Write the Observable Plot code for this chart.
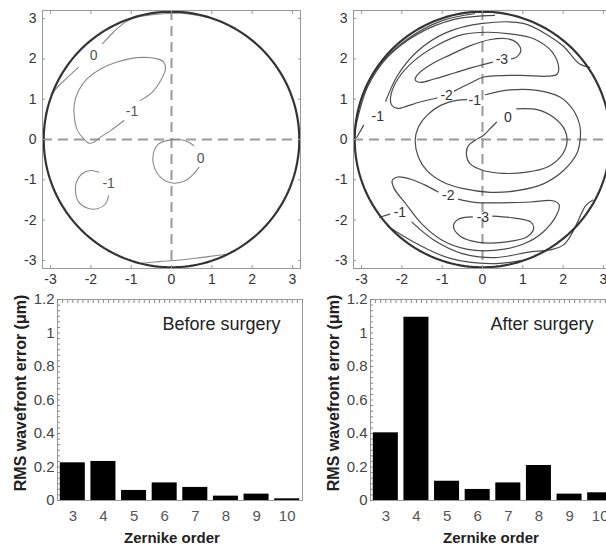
<!DOCTYPE html>
<html><head><meta charset="utf-8">
<script src="https://cdn.jsdelivr.net/npm/d3@7"></script>
<script src="https://cdn.jsdelivr.net/npm/@observablehq/plot@0.6"></script>
<style>
html,body{margin:0;padding:0;background:#fff;overflow:hidden;}
#wrap{position:relative;width:606px;height:550px;overflow:hidden;background:#fff;}
#wrap > svg{position:absolute;}
</style></head><body><div id="wrap"></div>
<script>
// ---------- data ----------
const orders = [3, 4, 5, 6, 7, 8, 9, 10];
const rmsBefore = [0.225, 0.233, 0.06, 0.105, 0.078, 0.026, 0.038, 0.01];
const rmsAfter = [0.404, 1.094, 0.115, 0.066, 0.105, 0.209, 0.038, 0.046];
const rmsTicks = [0, 0.2, 0.4, 0.6, 0.8, 1, 1.2];
const mapTicks = [-3, -2, -1, 0, 1, 2, 3];
const pupilRadius = 3.17;

// Before surgery contour traces [x, y]
const b0UpperA = [[-3.13,0.60],[-2.93,1.17],[-2.58,1.54],[-2.31,1.79]];
const b0UpperB = [[-1.71,2.38],[-1.44,2.66],[-1.19,2.88],[-0.94,3.01],[-0.52,3.09],[0.22,3.13],[0.9,3.03]];
const b0Bottom = [[-0.75,-3.07],[-0.3,-3.03],[0.2,-2.99],[0.72,-2.93],[1.27,-2.86],[1.35,-2.86]];
const bM1Upper = [[-1.18,0.47],[-1.51,0.22],[-1.76,0.06],[-1.93,-0.07],[-2.05,-0.09],[-2.18,0.02],[-2.33,0.22],[-2.41,0.55],[-2.41,0.89],[-2.30,1.22],[-2.09,1.51],[-1.76,1.75],[-1.35,1.92],[-0.85,2.03],[-0.35,2.00],[-0.19,1.92],[-0.15,1.75],[-0.27,1.46],[-0.48,1.17],[-0.77,0.97]];
const bM1Lower = [[-1.56,-1.39],[-1.64,-1.60],[-1.84,-1.72],[-2.09,-1.70],[-2.30,-1.56],[-2.38,-1.31],[-2.36,-1.06],[-2.22,-0.85],[-2.01,-0.77],[-1.80,-0.81]];
const b0Center = [[0.68,-0.69],[0.55,-0.85],[0.35,-1.02],[0.02,-1.08],[-0.27,-0.94],[-0.44,-0.65],[-0.45,-0.35],[-0.32,-0.11],[-0.02,-0.01],[0.31,-0.02],[0.55,-0.15]];
const beforeLabels = [["0",-1.93,2.08],["-1",-0.98,0.70],["0",0.72,-0.48],["-1",-1.56,-1.10]];

// After surgery contour traces [x, y]
const a0Center = [[0.85,0.76],[1.35,0.74],[1.76,0.55],[2.05,0.22],[2.09,-0.11],[1.93,-0.44],[1.60,-0.69],[1.10,-0.81],[0.52,-0.84],[0.02,-0.77],[-0.31,-0.60],[-0.40,-0.35],[-0.35,-0.15],[-0.18,-0.02],[0.02,0.10],[0.23,0.31],[0.35,0.43]];
const aM1Oval = [[0.07,1.11],[0.69,1.23],[1.35,1.22],[1.93,1.05],[2.26,0.72],[2.42,0.31],[2.42,-0.02],[2.34,-0.35],[2.01,-0.77],[1.51,-1.10],[0.85,-1.27],[0.19,-1.31],[-0.47,-1.22],[-0.97,-1.06],[-1.38,-0.77],[-1.59,-0.44],[-1.67,-0.02],[-1.59,0.31],[-1.38,0.60],[-1.05,0.84],[-0.64,0.97],[-0.39,0.99]];
const aM2Upper = [[-0.70,1.2],[-0.3,1.4],[0.03,1.55],[0.94,1.59],[1.6,1.57],[1.85,1.62],[1.89,1.79],[1.73,2.17],[1.27,2.50],[0.69,2.62],[0.12,2.66],[-0.5,2.6],[-1.1,2.35],[-1.7,1.95],[-2.1,1.5],[-2.28,1.05],[-2.25,0.85],[-2.1,0.77],[-1.96,0.80],[-1.55,0.93],[-1.13,1.03]];
const aM3Upper = [[0.25,1.92],[-0.2,1.8],[-0.7,1.65],[-1.2,1.5],[-1.55,1.42],[-1.67,1.48],[-1.6,1.62],[-1.3,1.85],[-0.8,2.1],[-0.3,2.33],[0.2,2.48],[0.6,2.5],[0.85,2.4],[0.95,2.2],[0.85,2.05],[0.72,2.0]];
const aM2Lower = [[-0.6,-1.48],[-0.2,-1.56],[0.5,-1.57],[1.2,-1.55],[1.75,-1.52],[1.9,-1.62],[1.85,-1.85],[1.5,-2.3],[1.0,-2.6],[0.3,-2.75],[-0.4,-2.72],[-1.0,-2.5],[-1.5,-2.1],[-1.9,-1.6],[-2.2,-1.2],[-2.24,-1.02],[-2.1,-0.93],[-1.8,-0.98],[-1.45,-1.12],[-1.1,-1.3]];
const aM3Lower = [[0.25,-1.9],[0.8,-1.95],[1.2,-2.05],[1.27,-2.2],[1.1,-2.42],[0.5,-2.55],[-0.1,-2.55],[-0.55,-2.4],[-0.72,-2.15],[-0.6,-1.98],[-0.25,-1.92]];
const aM1OuterA = [[-3.12,0.05],[-2.95,0.35]];
const aM1OuterB = [[-2.4,0.95],[-2.1,1.6],[-1.6,2.2],[-0.9,2.65],[0,2.88],[1.01,2.88],[1.6,2.6],[2.0,2.32],[2.41,1.87],[2.66,1.79]];
const a0Outer = [[-3.15,0.3],[-2.85,1.3],[-2.35,2.05],[-1.6,2.62],[-0.7,2.98],[0.3,3.08]];
const a1Outer = [[-3.16,0.25],[-2.98,1.1],[-2.55,1.85],[-1.85,2.5],[-1.0,2.95],[-0.2,3.12]];
const aM1LowerA = [[-2.55,-1.93],[-2.3,-1.85]];
const aM1LowerB = [[-1.75,-2.05],[-1.2,-2.5],[-0.5,-2.83],[0.3,-2.93],[1.1,-2.8],[2.0,-2.62],[2.57,-1.63],[2.74,-1.5]];
const a0Lower = [[-2.35,-2.15],[-1.6,-2.6],[-0.8,-2.95],[0.2,-3.08],[1.0,-3.0]];
const afterLabels = [["-3",0.48,1.99],["-2",-0.89,1.09],["-1",-0.19,0.97],["0",0.63,0.55],["-1",-2.6,0.58],["-2",-0.85,-1.39],["-1",-2.05,-1.80],["-3",0.01,-1.93]];

// ---------- helpers ----------
const FONT = "'Liberation Sans', Arial, Helvetica, sans-serif";
function rows(sets) {
  return sets.flatMap(([id, pts, closed]) => {
    const p = closed ? [...pts, pts[0]] : pts;
    return p.map(([x, y]) => ({id, x, y}));
  });
}
const circle = d3.range(0, 361, 2).map(a => ({x: pupilRadius * Math.cos(a * Math.PI / 180), y: pupilRadius * Math.sin(a * Math.PI / 180)}));

function mapPanel(lines, labels, o) {
  return Plot.plot({
    width: o.width, height: 290,
    marginLeft: o.ml, marginRight: o.width - o.ml - 258, marginTop: 10, marginBottom: 22,
    x: {domain: [-3.2, 3.2]}, y: {domain: [-3.2, 3.2]},
    style: {fontFamily: FONT, fontSize: "14px", background: "transparent", overflow: "visible"},
    marks: [
      Plot.ruleX([0], {stroke: "#9a9a9a", strokeWidth: 2, strokeDasharray: "10,6"}),
      Plot.ruleY([0], {stroke: "#9a9a9a", strokeWidth: 2, strokeDasharray: "10,6"}),
      Plot.line(lines, {x: "x", y: "y", z: "id", curve: "catmull-rom", stroke: o.lineColor, strokeWidth: o.lineWidth}),
      Plot.line(circle, {x: "x", y: "y", stroke: "#333", strokeWidth: 2.2}),
      Plot.text(labels, {x: d => d[1], y: d => d[2], text: d => d[0], fontSize: 14, fill: o.labelColor}),
      Plot.frame({stroke: "#999"}),
      Plot.axisX(mapTicks, {anchor: "bottom", tickSize: -3, tickPadding: 9, stroke: "#999", fill: "#333", label: null, tickFormat: d => String(d)}),
      Plot.axisY(mapTicks, {anchor: "left", tickSize: -3, tickPadding: 9, stroke: "#999", fill: "#333", label: null, tickFormat: d => String(d)}),
      Plot.axisX(mapTicks, {anchor: "top", tickSize: -3, tickFormat: () => "", stroke: "#999", label: null}),
      Plot.axisY(mapTicks, {anchor: "right", tickSize: -3, tickFormat: () => "", stroke: "#999", label: null})
    ]
  });
}

function barPanel(values, title, o) {
  const data = orders.map((order, i) => ({order, rms: values[i]}));
  return Plot.plot({
    width: o.width, height: 270,
    marginLeft: o.ml, marginRight: o.width - o.ml - 245, marginTop: 19, marginBottom: 50,
    x: {domain: [2.5, 10.5]}, y: {domain: [0, 1.2]},
    style: {fontFamily: FONT, fontSize: "15px", background: "transparent", overflow: "visible"},
    marks: [
      Plot.rectY(data, {x1: d => d.order - 0.5, x2: d => d.order + 0.5, y: "rms", fill: "#000", insetLeft: 2.8, insetRight: 2.8}),
      Plot.frame({stroke: "#999"}),
      Plot.axisX(d3.range(2.5, 10.51, 1 / 6), {anchor: "top", tickSize: -3, tickFormat: () => "", stroke: "#888", label: null}),
      Plot.axisY(d3.range(0, 1.201, 1 / 30), {anchor: "left", tickSize: -3, tickFormat: () => "", stroke: "#888", label: null}),
      Plot.axisX(orders, {anchor: "bottom", tickSize: 0, tickPadding: 10, fill: "#555", label: null}),
      Plot.axisY(rmsTicks, {anchor: "left", tickSize: 0, tickPadding: 3, fill: "#444", label: null, tickFormat: d => (d === 0 || d === 1) ? String(d) : d3.format(".1f")(d)}),
      Plot.text([title], {frameAnchor: "top-right", dx: -22, dy: 18, fontSize: 18, fill: "#222"}),
      Plot.text(["Zernike order"], {frameAnchor: "bottom", lineAnchor: "middle", dx: o.labelDx, dy: 38, fontSize: 15, fontWeight: "bold", fill: "#222"}),
      Plot.text(["RMS wavefront error (μm)"], {frameAnchor: "left", textAnchor: "middle", rotate: -90, dx: -37, dy: -7, fontSize: 16, fontWeight: "bold", fill: "#222"})
    ]
  });
}

// ---------- build ----------
const wrap = document.getElementById("wrap");
function place(svg, left, top) { svg.style.left = left + "px"; svg.style.top = top + "px"; wrap.appendChild(svg); }

const beforeLines = rows([["a", b0UpperA], ["b", b0UpperB], ["c", b0Bottom], ["d", bM1Upper], ["e", bM1Lower], ["f", b0Center]]);
const afterLines = rows([["a", a0Center], ["b", aM1Oval], ["c", aM2Upper], ["d", aM3Upper], ["e", aM2Lower], ["f", aM3Lower],
  ["g", aM1OuterA], ["h", aM1OuterB], ["i", a0Outer], ["j", a1Outer], ["k", aM1LowerA], ["l", aM1LowerB], ["m", a0Lower]]);

place(mapPanel(beforeLines, beforeLabels, {width: 303, ml: 42, lineColor: "#8a8a8a", lineWidth: 1.1, labelColor: "#555"}), 0, 0);
place(mapPanel(afterLines, afterLabels, {width: 320, ml: 50, lineColor: "#4a4a4a", lineWidth: 1.2, labelColor: "#333"}), 303, 0);
place(barPanel(rmsBefore, "Before surgery", {width: 303, ml: 57, labelDx: -8}), 0, 280);
place(barPanel(rmsAfter, "After surgery", {width: 320, ml: 67, labelDx: -2}), 303, 280);
</script></body></html>
